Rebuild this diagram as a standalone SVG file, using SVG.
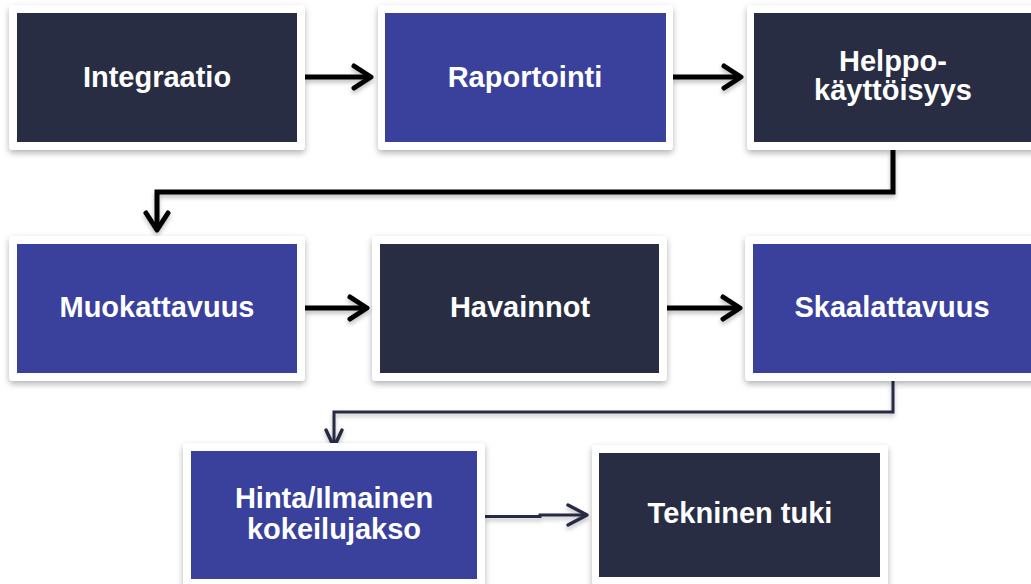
<svg xmlns="http://www.w3.org/2000/svg" width="1031" height="584" viewBox="0 0 1031 584">
<style>
.card{fill:#ffffff;filter:url(#sh)}
.dark{fill:#282d44}
.blue{fill:#3a419c}
.lbl{font-family:"Liberation Sans",Arial,sans-serif;font-weight:bold;font-size:29px;fill:#ffffff;text-anchor:middle}
.c1{fill:none;stroke:#000000;stroke-width:5}
.c2{fill:none;stroke:#262c44;stroke-width:3}
.head1{fill:none;stroke:#000000;stroke-width:5;stroke-linecap:round;stroke-linejoin:round}
.head2{fill:none;stroke:#262c44;stroke-width:3.5;stroke-linecap:round;stroke-linejoin:round}
</style>
<defs>
<filter id="sh" x="-10%" y="-10%" width="120%" height="130%">
<feDropShadow dx="0" dy="3" stdDeviation="3" flood-color="#000000" flood-opacity="0.3"/>
</filter>
<filter id="lsh" x="-10%" y="-50%" width="120%" height="200%">
<feDropShadow dx="0" dy="3" stdDeviation="2" flood-color="#000000" flood-opacity="0.25"/>
</filter>
</defs>
<rect width="1031" height="584" fill="#ffffff"/>

<g id="connectors" filter="url(#lsh)">
<path class="c1" d="M305,77 H370"/>
<path class="head1" d="M354,66 L371,77 L354,88"/>
<path class="c1" d="M673,77 H740"/>
<path class="head1" d="M724,66 L741,77 L724,88"/>
<path class="c1" d="M893,150 V192 H157 V229"/>
<path class="head1" d="M146,213 L157,230 L168,213"/>
<path class="c1" d="M305,308 H366"/>
<path class="head1" d="M350,297 L367,308 L350,319"/>
<path class="c1" d="M667,308 H739"/>
<path class="head1" d="M723,297 L740,308 L723,319"/>
<path class="c2" d="M893,381 V412 H334 V446"/>
<path class="head2" d="M326,430 L334,447 L342,430"/>
<path class="c2" d="M485,516.5 H540 V515 H586"/>
<path class="head2" d="M568,505 L587,515 L568,525"/>
</g>

<g id="n1">
<rect class="card" x="9" y="5" width="296" height="145" rx="4"/>
<rect class="dark" x="17" y="13" width="280" height="129"/>
<text class="lbl" x="157" y="87">Integraatio</text>
</g>
<g id="n2">
<rect class="card" x="378" y="5" width="295" height="145" rx="4"/>
<rect class="blue" x="385" y="13" width="281" height="129"/>
<text class="lbl" x="525" y="87">Raportointi</text>
</g>
<g id="n3">
<rect class="card" x="747" y="5" width="295" height="145" rx="4"/>
<rect class="dark" x="754" y="13" width="279" height="129"/>
<text class="lbl" x="893" y="71">Helppo-</text>
<text class="lbl" x="893" y="100">käyttöisyys</text>
</g>
<g id="n4">
<rect class="card" x="9" y="236" width="296" height="145" rx="4"/>
<rect class="blue" x="17" y="244" width="280" height="129"/>
<text class="lbl" x="157" y="317">Muokattavuus</text>
</g>
<g id="n5">
<rect class="card" x="372" y="236" width="295" height="145" rx="4"/>
<rect class="dark" x="380" y="244" width="279" height="129"/>
<text class="lbl" x="520" y="317">Havainnot</text>
</g>
<g id="n6">
<rect class="card" x="745" y="236" width="295" height="145" rx="4"/>
<rect class="blue" x="753" y="244" width="280" height="129"/>
<text class="lbl" x="892" y="317">Skaalattavuus</text>
</g>
<g id="n7">
<rect class="card" x="183" y="443" width="302" height="145" rx="4"/>
<rect class="blue" x="191" y="451" width="286" height="128"/>
<text class="lbl" x="334" y="508">Hinta/Ilmainen</text>
<text class="lbl" x="334" y="539">kokeilujakso</text>
</g>
<g id="n8">
<rect class="card" x="592" y="445" width="296" height="141" rx="4"/>
<rect class="dark" x="599" y="453" width="281" height="124"/>
<text class="lbl" x="740" y="523">Tekninen tuki</text>
</g>
</svg>
